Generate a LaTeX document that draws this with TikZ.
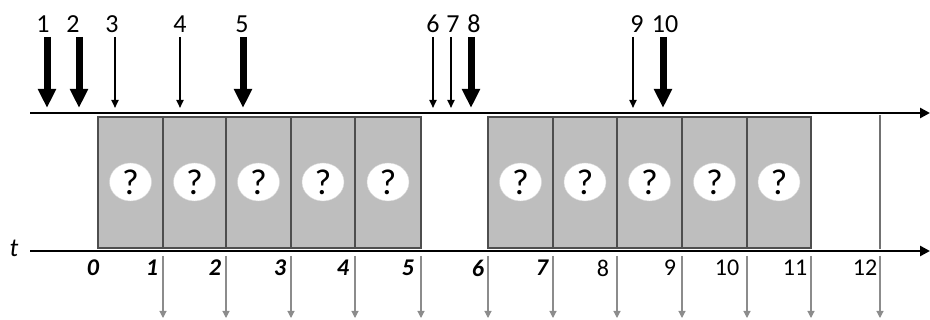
\documentclass[tikz,border=0pt]{standalone}
\usepackage{fontspec}
\setmainfont{Carlito}
\usetikzlibrary{arrows.meta,shapes.geometric}
\definecolor{boxgray}{HTML}{BEBEBE}
\definecolor{edgegray}{HTML}{4E4E4E}
\definecolor{tickgray}{HTML}{8C8C8C}
\begin{document}
\begin{tikzpicture}[x=1pt,y=-1pt,
  axis/.style={line width=2.6pt,-{Triangle[length=10pt,width=10pt]}},
  slotbox/.style={fill=boxgray,draw=edgegray,line width=1.6pt},
  qmark/.style={ellipse,fill=white,draw=black!15,line width=0.4pt,minimum width=42pt,minimum height=38pt,inner sep=0pt,font=\fontsize{36}{36}\selectfont},
  bigarrow/.style={line width=7pt,-{Triangle[length=19pt,width=17pt]}},
  thinarrow/.style={line width=1.8pt,-{Triangle[length=8pt,width=7pt]}},
  downtick/.style={tickgray,line width=1.1pt,-{Triangle[length=7pt,width=7pt]}},
  toplab/.style={font=\fontsize{26}{26}\selectfont,inner sep=0pt},
  botlab/.style={inner sep=0pt},
]
\useasboundingbox (0,0) rectangle (930,320);
% tick positions
\def\tx{{98,163,226,291,355,421,488,553,617,682,747,811,880}}
% boxes
\foreach \i in {0,1,2,3,4,6,7,8,9,10}{
  \pgfmathsetmacro{\xa}{\tx[\i]}
  \pgfmathtruncatemacro{\j}{\i+1}
  \pgfmathsetmacro{\xb}{\tx[\j]}
  \draw[slotbox] (\xa,117) rectangle (\xb,248);
  \node[qmark] (q\i) at ({(\xa+\xb)/2},182) {?};
}
\coordinate (r12top) at (880,115);
\coordinate (r12bot) at (880,249);
\draw[edgegray!80,line width=1.6pt] (r12top) -- (r12bot);
% axes
\coordinate (tops) at (30,113);
\coordinate (tope) at (930,113);
\coordinate (bots) at (30,251);
\coordinate (bote) at (930,251);
\draw[axis] (tops) -- (tope);
\draw[axis] (bots) -- (bote);
\node[botlab,font=\fontsize{26}{26}\selectfont\itshape] (t) at (14,248) {t};
% gray output arrows
\foreach \i in {1,...,12}{
  \pgfmathsetmacro{\xa}{\tx[\i]}
  \coordinate (gs\i) at (\xa,256);
  \coordinate (ge\i) at (\xa,318);
  \draw[downtick] (gs\i) -- (ge\i);
}
% bottom labels
\foreach \n/\x/\st in {0/93/\bfseries\itshape,1/152/\bfseries\itshape,2/215/\bfseries\itshape,3/280/\bfseries\itshape,4/343/\bfseries\itshape,5/408/\bfseries\itshape,6/478/\bfseries\itshape,7/542/\bfseries\itshape,8/603/,9/670/,10/727/,11/795/,12/865/}{
  \node[botlab,font=\fontsize{24}{24}\selectfont\st] (b\n) at (\x,268) {\n};
}
% top arrivals
\foreach \n/\x/\lx/\sty in {1/47/43/bigarrow,2/79/73/bigarrow,3/115/112/thinarrow,4/180/180/thinarrow,5/243/242/bigarrow,6/433/433/thinarrow,7/451/453/thinarrow,8/471/474/bigarrow,9/633/637/thinarrow,10/663/665/bigarrow}{
  \node[toplab] (l\n) at (\lx,24) {\n};
  \coordinate (as\n) at (\x,37);
  \coordinate (ae\n) at (\x,108);
  \draw[\sty] (as\n) -- (ae\n);
}
\end{tikzpicture}
\end{document}
